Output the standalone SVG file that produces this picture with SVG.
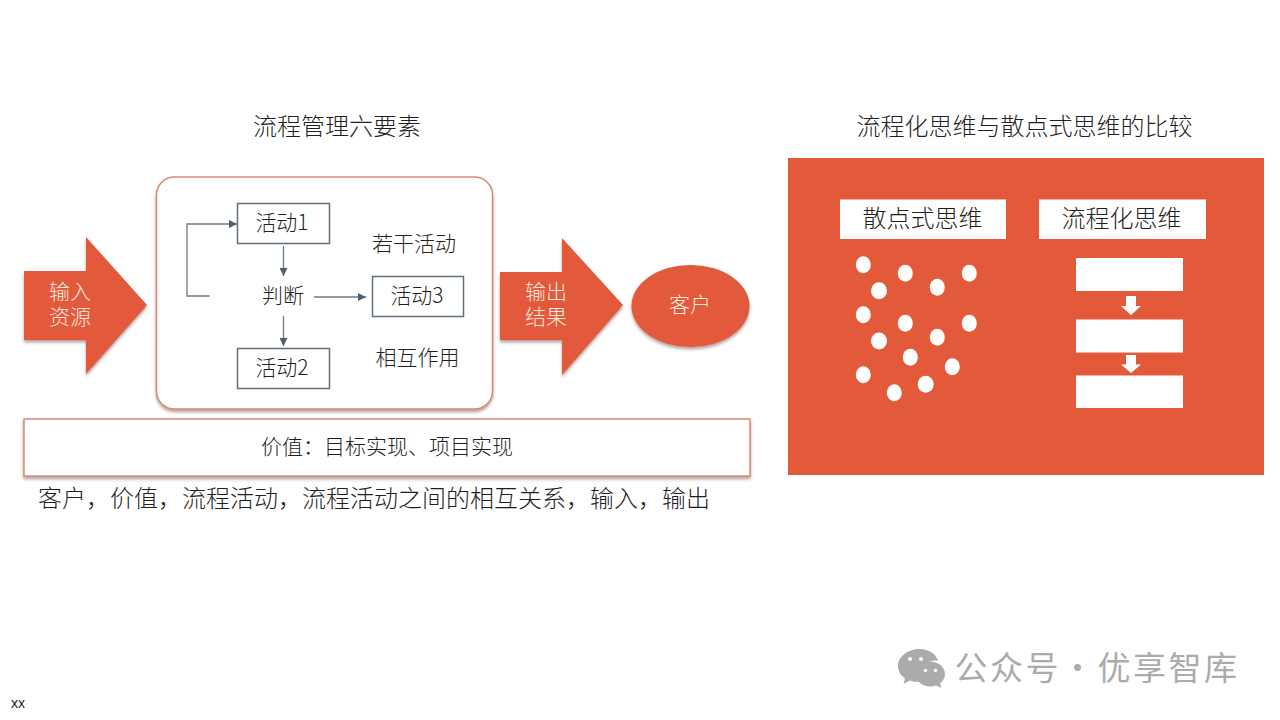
<svg xmlns="http://www.w3.org/2000/svg" width="1280" height="720" viewBox="0 0 1280 720">
<style>
text{font-family:"Noto Sans CJK SC","Liberation Sans",sans-serif;fill:#1f1f1f;text-anchor:middle;font-weight:300}
.t24{font-size:24px}
.t21{font-size:21px}
.w{fill:#fbe6df;font-family:"Liberation Sans","Noto Sans CJK SC",sans-serif}
.o{fill:#e25a3a}
.box{fill:#fff;stroke:#5f6f7c;stroke-width:1.5}
.wf{fill:#fff}
.c{fill:none;stroke:#6b7a87;stroke-width:1.3}
.a{marker-end:url(#h)}
.dot{fill:#fff}
.wm{font-size:33px;fill:#ababab;letter-spacing:2.5px;text-anchor:start;font-weight:400}
</style>
<defs>
<filter id="s" x="-10%" y="-10%" width="120%" height="125%"><feDropShadow dx="0" dy="2.5" stdDeviation="1.6" flood-color="#7a5a50" flood-opacity="0.55"/></filter>
<marker id="h" markerUnits="userSpaceOnUse" markerWidth="9" markerHeight="8" refX="8" refY="4" orient="auto"><path d="M0 0L8 4L0 8Z" fill="#4f5f6d"/></marker>
</defs>
<rect width="1280" height="720" fill="#fff"/>

<text id="title-left" class="t24" x="337" y="135">流程管理六要素</text>
<text id="title-right" class="t24" x="1024.500" y="135">流程化思维与散点式思维的比较</text>

<g id="input-arrow">
<path class="o" filter="url(#s)" d="M24 271H86V237L147 305L86 374V340H24Z"/>
<text class="t21 w"><tspan x="70" y="299">输入</tspan><tspan x="70" y="324">资源</tspan></text>
</g>

<g id="process-frame">
<rect x="156.500" y="177" width="336" height="232" rx="18" fill="#fff" stroke="#d98a75" stroke-width="1.500" filter="url(#s)"/>
</g>

<g id="activity1"><rect class="box" x="237.500" y="203.500" width="92" height="40"/><text class="t21" x="282" y="230">活动1</text></g>
<g id="activity2"><rect class="box" x="237.500" y="348.500" width="92" height="40"/><text class="t21" x="282" y="375">活动2</text></g>
<g id="activity3"><rect class="box" x="372.500" y="276.500" width="91" height="40"/><text class="t21" x="417" y="303">活动3</text></g>
<g id="decision"><text class="t21" x="283" y="303">判断</text></g>
<g id="label-activities"><text class="t21" x="414" y="251">若干活动</text></g>
<g id="label-interaction"><text class="t21" x="417.500" y="365">相互作用</text></g>

<g id="connectors">
<path class="c a" d="M209.500 296H187V224H237"/>
<path class="c a" d="M283.500 246V276"/>
<path class="c a" d="M283.500 316V346"/>
<path class="c a" d="M314 297H366"/>
</g>

<g id="output-arrow">
<path class="o" filter="url(#s)" d="M500 272H562V238L623 305L562 375V340H500Z"/>
<text class="t21 w"><tspan x="546" y="299">输出</tspan><tspan x="546" y="324">结果</tspan></text>
</g>

<g id="customer">
<ellipse class="o" cx="690.500" cy="306" rx="59" ry="41" filter="url(#s)"/>
<text class="t21 w" x="690" y="312">客户</text>
</g>

<g id="value-bar">
<rect x="24" y="419" width="726" height="57" fill="#fff" stroke="#d98a75" stroke-width="1.500" filter="url(#s)"/>
<text class="t21" x="387" y="454">价值&#65306;目标实现、项目实现</text>
</g>

<g id="summary"><text class="t24" x="374" y="507">客户&#65292;价值&#65292;流程活动&#65292;流程活动之间的相互关系&#65292;输入&#65292;输出</text></g>

<g id="compare-panel">
<rect class="o" x="788" y="158" width="476" height="317"/>
</g>
<g id="scatter-label"><rect class="wf" x="840" y="199.500" width="166" height="39.500"/><text class="t24" x="922.500" y="227">散点式思维</text></g>
<g id="flow-label"><rect class="wf" x="1039" y="199.500" width="167" height="39.500"/><text class="t24" x="1121.500" y="227">流程化思维</text></g>

<g id="scatter-dots">
<ellipse class="dot" cx="863.300" cy="264.700" rx="7.500" ry="8.500"/>
<ellipse class="dot" cx="905.300" cy="273.300" rx="7.500" ry="8.500"/>
<ellipse class="dot" cx="879" cy="290.700" rx="8" ry="8.500"/>
<ellipse class="dot" cx="937.300" cy="287.300" rx="7.500" ry="8.500"/>
<ellipse class="dot" cx="969.300" cy="273.300" rx="7.500" ry="8.500"/>
<ellipse class="dot" cx="863.300" cy="314.700" rx="7.500" ry="8.500"/>
<ellipse class="dot" cx="905.300" cy="323.300" rx="7.500" ry="8.500"/>
<ellipse class="dot" cx="879" cy="341" rx="8" ry="8.500"/>
<ellipse class="dot" cx="937.300" cy="337.300" rx="7.500" ry="8.500"/>
<ellipse class="dot" cx="969.300" cy="323.300" rx="7.500" ry="8.500"/>
<ellipse class="dot" cx="910.300" cy="357.300" rx="7.500" ry="8.500"/>
<ellipse class="dot" cx="952.300" cy="366.700" rx="7.500" ry="8.500"/>
<ellipse class="dot" cx="863.300" cy="374.700" rx="7.500" ry="8.500"/>
<ellipse class="dot" cx="894.300" cy="392.700" rx="7.500" ry="8.500"/>
<ellipse class="dot" cx="925.700" cy="384.300" rx="8" ry="8.500"/>
</g>

<g id="flow-steps">
<rect class="wf" x="1076" y="258" width="107" height="33"/>
<rect class="wf" x="1076" y="319.500" width="107" height="33"/>
<rect class="wf" x="1076" y="375.500" width="107" height="32.500"/>
<path class="wf" d="M1126 296H1136V306H1141L1131 315L1121 306H1126Z"/>
<path class="wf" d="M1126 355H1136V364.500H1141L1131 373L1121 364.500H1126Z"/>
</g>

<g id="watermark">
<path fill="#ababab" d="M920 649C908 649 898 656.500 898 666C898 671.500 901 675.500 905 678.500L903.500 684L910 680.500C913 681.500 916 682 919 682C918 680 917.500 678 917.500 675.500C917.500 667 926 660.500 936 660.500L938 660.500C936 654 928.500 649 920 649Z"/>
<path fill="#ababab" d="M945 674C945 666.500 937.500 661.500 930.500 661.500C922 661.500 916 667.500 916 674C916 681 922 686.500 930.500 686.500C932.500 686.500 934.500 686 936 685.500L941.500 688L940 683.500C943 681 945 678 945 674Z"/>
<circle cx="910" cy="659" r="2" fill="#fff"/><circle cx="921" cy="659" r="2" fill="#fff"/>
<circle cx="925.500" cy="670.500" r="1.700" fill="#fff"/><circle cx="935.500" cy="670.500" r="1.700" fill="#fff"/>
<text class="wm" x="954.500" y="680">公众号<tspan x="1061">·</tspan><tspan x="1097.500">优享智库</tspan></text>
</g>

<text id="footer" x="18" y="708" style="font-family:'Liberation Sans',sans-serif;font-size:14px;font-weight:400">xx</text>
</svg>
